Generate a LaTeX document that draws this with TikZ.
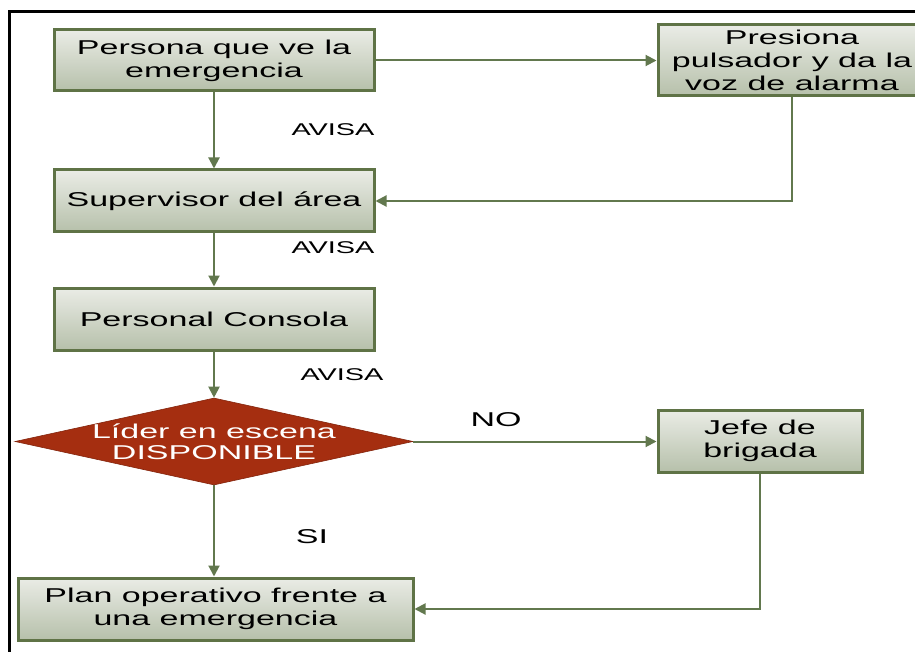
\documentclass[tikz,border=0pt]{standalone}
\usepackage{fontspec}
\setmainfont{Liberation Sans}[FakeStretch=1.7]
\usetikzlibrary{arrows.meta,shapes.geometric}
\definecolor{boxedge}{RGB}{95,115,70}
\definecolor{linecol}{RGB}{98,120,78}
\definecolor{boxtop}{RGB}{234,236,230}
\definecolor{boxbot}{RGB}{182,192,170}
\definecolor{diafill}{RGB}{165,46,16}
\tikzset{
  stepbox/.style={rectangle, draw=boxedge, line width=3pt, top color=boxtop, bottom color=boxbot,
    align=center, inner sep=0pt, font=\fontsize{20}{23}\selectfont},
  decbox/.style={shape=diamond, fill=diafill, draw=diafill!80!black, line width=0.6pt, inner sep=0pt,
    aspect=4.57, minimum width=398pt, minimum height=87pt},
  dtext/.style={text=white, align=center, font=\fontsize{20}{21}\selectfont},
  arr/.style={draw=linecol, line width=2pt, -{Triangle[length=11pt,width=11pt]}},
  lbl/.style={font=\fontsize{17}{19}\selectfont, inner sep=0pt},
  biglbl/.style={font=\fontsize{20}{22}\selectfont, inner sep=0pt}
}
\begin{document}
\begin{tikzpicture}[x=1pt,y=-1pt]
\useasboundingbox (0,0) rectangle (915,652);
\clip (0,0) rectangle (915,652);
\fill[white] (0,0) rectangle (915,652);
\draw[line width=3pt] (9,652) -- (9,12) -- (915,12);

\node[stepbox, minimum width=320pt, minimum height=61pt] (b1) at (214,60.5) {Persona que ve la\\emergencia};
\node[stepbox, minimum width=268pt, minimum height=71pt] (b2) at (792,60.5) {Presiona\\pulsador y da la\\voz de alarma};
\node[stepbox, minimum width=320pt, minimum height=62pt] (b3) at (214,201) {Supervisor del área};
\node[stepbox, minimum width=320pt, minimum height=62pt] (b4) at (214,319) {Personal Consola};
\node[decbox] (d) at (214,441.5) {};
\node[dtext] (dt) at (214,442) {Líder en escena\\DISPONIBLE};
\node[stepbox, minimum width=204pt, minimum height=62pt] (b5) at (760,441) {Jefe de\\brigada};
\node[stepbox, minimum width=395pt, minimum height=62pt] (b6) at (215.5,609) {Plan operativo frente a\\una emergencia};

\draw[arr] (b1.east) -- (b2.west);
\draw[arr] (b1.south) -- (b3.north);
\draw[arr] (b2.south) |- (b3.east);
\draw[arr] (b3.south) -- (b4.north);
\draw[arr] (b4.south) -- (d.north);
\draw[arr] (d.east) -- (d.east -| b5.west);
\draw[arr] (d.south) -- (d.south |- b6.north);
\draw[arr] (b5.south) |- (b6.east);

\node[lbl] (l1) at (333,130) {AVISA};
\node[lbl] (l2) at (333,248) {AVISA};
\node[lbl] (l3) at (342,375) {AVISA};
\node[biglbl] (l4) at (496,420) {NO};
\node[biglbl] (l5) at (312,537) {SI};
\end{tikzpicture}
\end{document}
